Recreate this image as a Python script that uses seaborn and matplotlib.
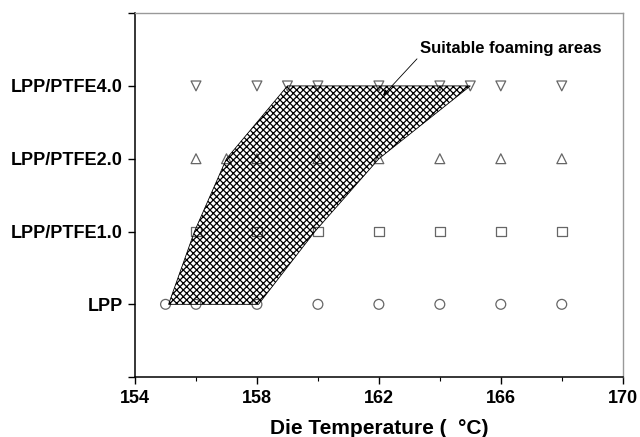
import numpy as np
import pandas as pd
import matplotlib
matplotlib.use('Agg')
import matplotlib.pyplot as plt
import seaborn as sns
from matplotlib.patches import Polygon

# ── data ─────────────────────────────────────────────────────────────────────

samples = ['LPP', 'LPP/PTFE1.0', 'LPP/PTFE2.0', 'LPP/PTFE4.0']
sample_levels = [1, 2, 3, 4]
lpp_temps = [155, 156, 158, 160, 162, 164, 166, 168]
ptfe1_temps = [156, 158, 160, 162, 164, 166, 168]
ptfe2_temps = [156, 157, 158, 160, 162, 164, 166, 168]
ptfe4_temps = [156, 158, 159, 160, 162, 164, 165, 166, 168]

x_major = [154, 158, 162, 166, 170]
x_minor = [156, 160, 164, 168]

# outline of the hatched "suitable foaming" region (temperature, sample level)
region_temps = [155.1, 158.05, 159.9, 162.0, 165.0, 159.0, 157.0, 155.95]
region_levels = [1.0, 1.0, 2.0, 3.0, 4.0, 4.0, 3.0, 2.0]

annot_text = 'Suitable foaming areas'
annot_xy = (162.14, 3.87)
annot_text_xy = (163.35, 4.52)

# ── build table ──────────────────────────────────────────────────────────────

all_temps = [lpp_temps, ptfe1_temps, ptfe2_temps, ptfe4_temps]
df = pd.concat([
    pd.DataFrame({'temp': t, 'level': lvl, 'sample': name})
    for t, lvl, name in zip(all_temps, sample_levels, samples)
], ignore_index=True)

# ── plot ─────────────────────────────────────────────────────────────────────

sns.set_style('ticks')
plt.rcParams['font.family'] = ['Liberation Sans', 'DejaVu Sans']
plt.rcParams['font.weight'] = 'bold'
plt.rcParams['hatch.linewidth'] = 0.9
plt.rcParams['hatch.color'] = 'black'
for key in ['text.color', 'axes.labelcolor', 'xtick.color', 'ytick.color']:
    plt.rcParams[key] = 'black'

fig, ax = plt.subplots(figsize=(6.4, 4.37), dpi=100)
fig.subplots_adjust(left=0.211, right=0.973, bottom=0.137, top=0.970)

markers = {'LPP': 'o', 'LPP/PTFE1.0': 's', 'LPP/PTFE2.0': '^', 'LPP/PTFE4.0': 'v'}
sns.scatterplot(
    data=df, x='temp', y='level', style='sample', markers=markers,
    s=50, facecolor='none', edgecolor='#666666', linewidth=0.9,
    legend=False, ax=ax, zorder=2,
)

# hatch drawn over the markers, as in the original figure
region = Polygon(np.column_stack([region_temps, region_levels]), closed=True,
                 facecolor='none', edgecolor='black', hatch='xxxxx',
                 linewidth=0.6, zorder=3)
ax.add_patch(region)

ax.annotate(annot_text, xy=annot_xy, xytext=annot_text_xy,
            fontsize=12, fontweight='bold', ha='left', va='center',
            arrowprops=dict(arrowstyle='-|>', color='black', lw=0.6,
                            mutation_scale=8, shrinkA=0, shrinkB=0,
                            relpos=(0, 0)))

ax.set_xlim(154, 170)
ax.set_ylim(0, 5)
ax.set_xticks(x_major)
ax.set_xticks(x_minor, minor=True)
ax.set_yticks(range(6))
ax.set_yticklabels([''] + samples + [''])
ax.tick_params(axis='both', which='major', direction='out', length=5,
               width=1.0, labelsize=13, pad=4, color='black')
ax.tick_params(axis='x', which='minor', direction='out', length=3, width=0.8,
               color='black')
ax.set_xlabel('Die Temperature (  °C)', fontsize=15, fontweight='bold', labelpad=9)
ax.set_ylabel('')

for side in ['left', 'bottom']:
    ax.spines[side].set_color('black')
    ax.spines[side].set_linewidth(1.1)
for side in ['top', 'right']:
    ax.spines[side].set_visible(True)
    ax.spines[side].set_color('#999999')
    ax.spines[side].set_linewidth(1.0)

fig.savefig('out.png', dpi=100)
plt.close(fig)
